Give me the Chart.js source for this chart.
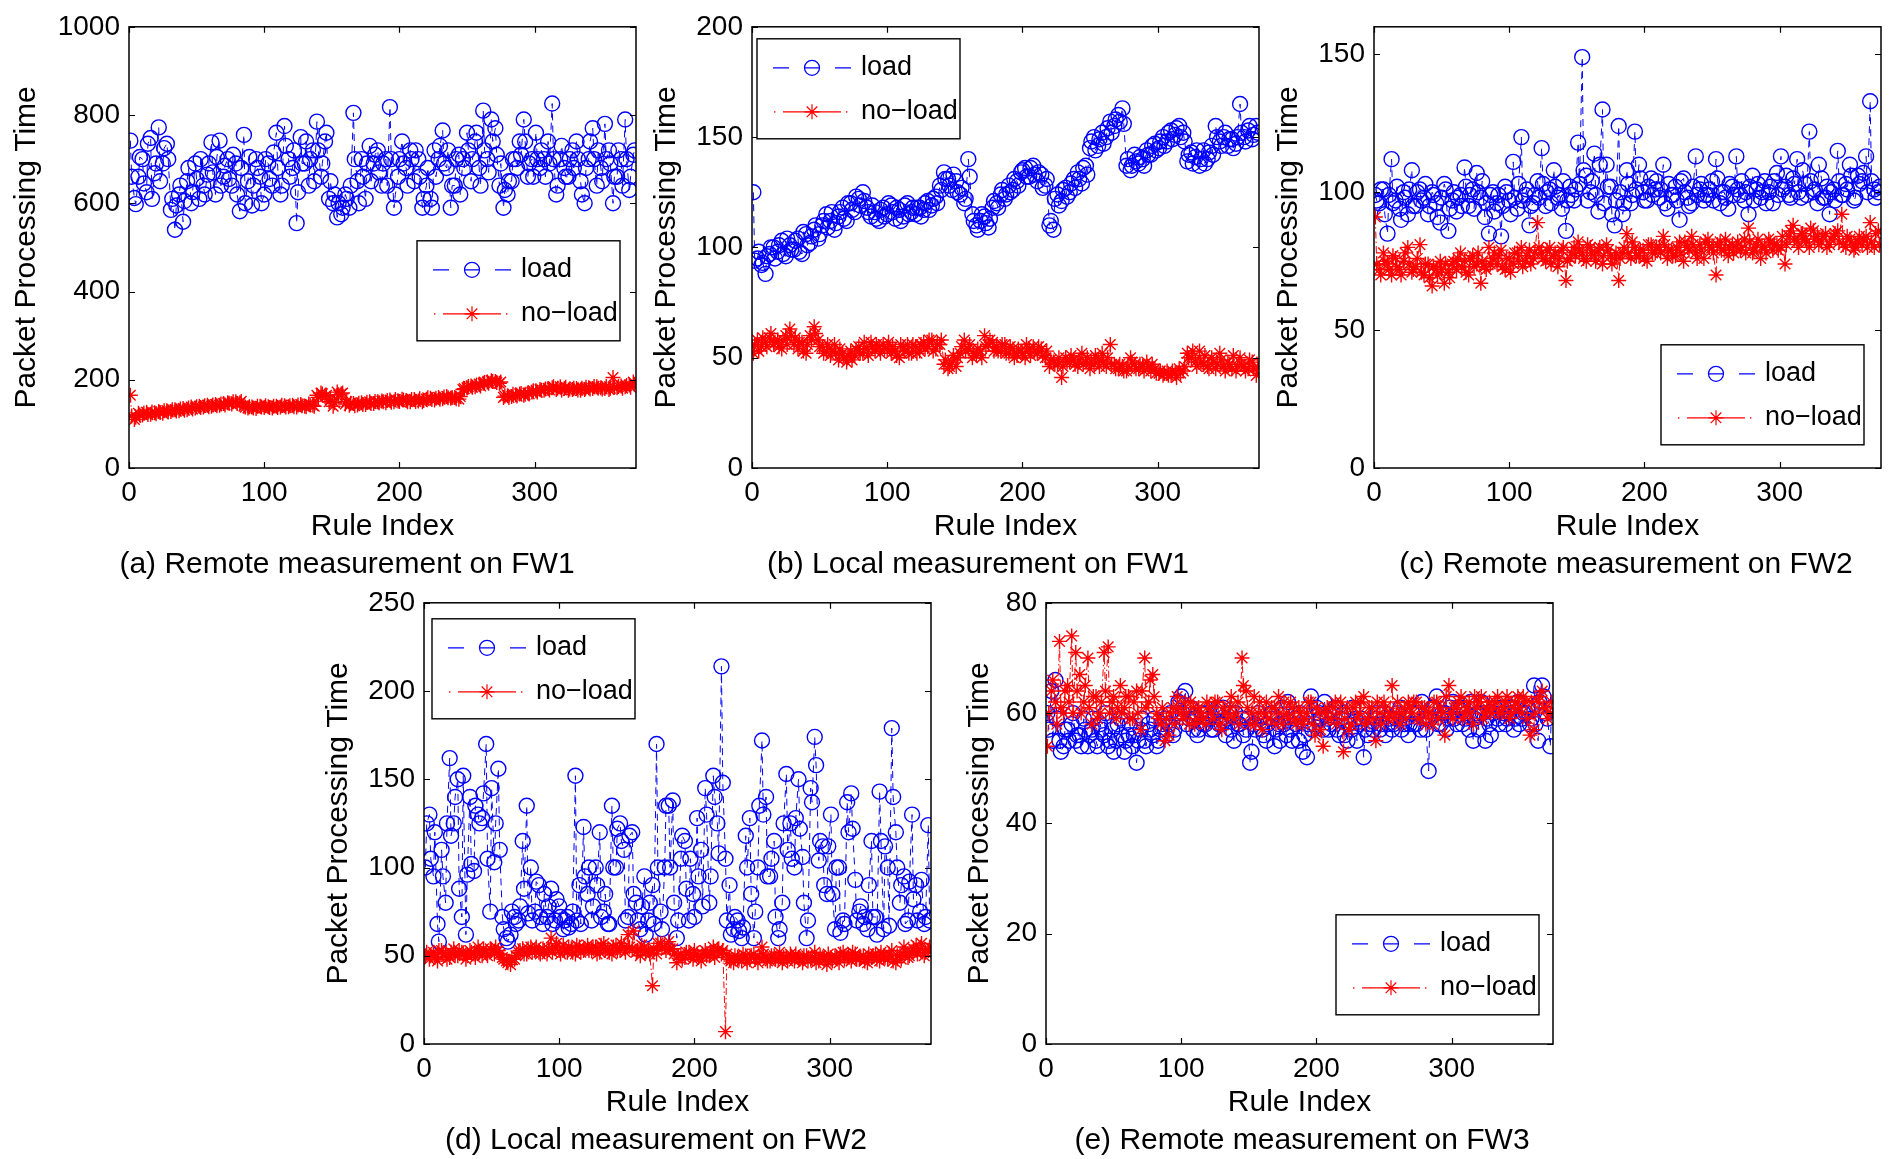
<!DOCTYPE html>
<html>
<head>
<meta charset="utf-8">
<script src="https://cdn.jsdelivr.net/npm/chart.js@4.4.1/dist/chart.umd.min.js"></script>
<style>
  html, body { margin: 0; padding: 0; background: #fff; }
  body { width: 1892px; height: 1159px; position: relative; overflow: hidden; }
  canvas { position: absolute; }
  .caption {
    position: absolute; white-space: nowrap; line-height: 1;
    font: 30px "Liberation Sans", Arial, Helvetica, sans-serif; color: #000;
    transform: translate(-50%, -50%);
  }
</style>
</head>
<body>
<script>
const FONT = '"Liberation Sans", Arial, Helvetica, sans-serif';

// rule indices, two interleaved samplings (1,4,7,... and 2,5,8,...)
const ruleIndexA = [1,4,7,10,13,16,19,22,25,28,31,34,37,40,43,46,49,52,55,58,61,64,67,70,73,76,79,82,85,88,
  91,94,97,100,103,106,109,112,115,118,121,124,127,130,133,136,139,142,145,148,151,154,157,160,163,166,169,172,175,178,
  181,184,187,190,193,196,199,202,205,208,211,214,217,220,223,226,229,232,235,238,241,244,247,250,253,256,259,262,265,268,
  271,274,277,280,283,286,289,292,295,298,301,304,307,310,313,316,319,322,325,328,331,334,337,340,343,346,349,352,355,358,
  361,364,367,370,373];
const ruleIndexB = [2,5,8,11,14,17,20,23,26,29,32,35,38,41,44,47,50,53,56,59,62,65,68,71,74,77,80,83,86,89,
  92,95,98,101,104,107,110,113,116,119,122,125,128,131,134,137,140,143,146,149,152,155,158,161,164,167,170,173,176,179,
  182,185,188,191,194,197,200,203,206,209,212,215,218,221,224,227,230,233,236,239,242,245,248,251,254,257,260,263,266,269,
  272,275,278,281,284,287,290,293,296,299,302,305,308,311,314,317,320,323,326,329,332,335,338,341,344,347,350,353,356,359,
  362,365,368,371,374];

// (a) Remote measurement on FW1
const fw1RemoteLoadA = [742,612,660,700,625,748,668,772,690,735, 585,540,620,558,650,600,690,610,640,665,
  738,620,742,660,700,640,690,582,755,650, 595,700,660,620,690,640,760,620,775,700,
  680,555,750,690,640,720,785,660,740,610, 600,568,575,620,590,805,650,700,610,730,
  690,720,640,700,818,590,660,740,680,720, 650,700,590,640,610,720,700,765,680,590,
  640,710,700,760,650,740,680,810,700,790, 770,640,590,620,650,700,740,790,660,700,
  760,680,700,740,826,620,700,680,660,720, 740,650,600,700,770,640,680,780,720,600,
  660,700,790,630,710];
const fw1RemoteLoadB = [660,598,705,645,735,610,690,650,725,700, 610,595,640,605,680,625,655,700,620,690,
  670,705,640,685,655,710,620,680,600,705, 640,680,600,700,655,715,680,640,730,660,
  720,625,690,740,700,650,720,690,760,650, 620,600,590,610,640,700,600,660,690,650,
  710,670,690,640,700,620,700,690,640,700, 720,660,610,680,590,660,730,690,720,640,
  700,620,680,720,700,760,640,720,670,740, 710,690,630,650,700,680,710,740,690,660,
  700,720,660,690,700,640,730,660,700,680, 700,620,680,740,700,720,650,700,690,660,
  720,640,700,660,720];
const fw1RemoteNoLoadA = [165,110,124,120,126,122,125,128,124,130, 128,132,130,135,132,138,136,140,138,142,
  140,144,142,146,148,145,150,148,140,136, 138,135,140,137,139,136,140,138,141,139,
  142,138,144,140,145,142,165,170,162,150, 140,172,168,145,142,146,143,148,144,150,
  146,150,152,148,154,150,152,156,153,150, 155,152,150,156,158,154,160,157,162,158,
  160,156,178,182,186,184,190,192,195,198, 196,192,160,164,162,166,168,165,170,172,
  175,178,176,180,182,178,184,180,176,178, 180,176,178,182,180,184,182,180,178,205,
  182,186,184,188,195];
const fw1RemoteNoLoadB = [118,115,120,124,121,127,123,126,130,127, 132,129,134,131,136,134,139,137,141,139,
  143,141,145,143,147,150,146,151,138,139, 136,140,138,141,137,140,137,142,138,141,
  139,143,141,139,143,140,160,168,165,155, 148,166,170,150,147,141,147,144,149,146,
  151,148,150,153,149,155,151,154,150,155, 151,157,153,159,155,158,156,161,159,160,
  157,162,180,185,183,188,186,194,192,196, 194,195,163,160,167,163,169,167,168,175,
  172,176,179,177,184,181,177,183,179,181, 177,181,183,179,185,181,179,185,181,183,
  185,181,187,183,190];

// (b) Local measurement on FW1
const fw1LocalLoadA = [125,95,92,88,97,100,98,103,96,101, 99,104,97,106,102,108,104,110,115,112,
  108,114,118,112,120,116,122,125,118,114, 116,112,118,115,119,113,117,114,120,116,
  115,118,117,121,119,123,128,134,131,126, 130,124,120,140,115,110,112,114,109,118,
  120,124,122,128,126,130,134,136,132,137, 130,133,128,110,108,124,121,127,125,131,
  134,129,137,145,150,146,152,150,157,155, 160,163,137,135,142,138,140,144,142,147,
  145,150,148,153,151,155,152,139,143,141, 137,144,140,146,155,148,150,146,149,147,
  165,150,153,149,155];
const fw1LocalLoadB = [94,98,93,96,100,95,101,97,104,99, 103,98,107,101,105,110,106,112,109,116,
  111,116,113,120,117,123,119,121,116,119, 113,117,114,120,116,118,112,119,115,118,
  118,114,120,117,122,120,126,131,128,133, 125,127,122,132,112,108,115,111,113,121,
  118,126,124,125,131,128,135,132,136,133, 134,127,131,112,122,119,126,123,129,127,
  131,136,133,148,144,149,147,154,152,158, 157,156,140,137,139,141,137,142,146,144,
  148,146,152,149,154,150,148,142,138,144, 140,138,143,142,150,146,152,149,145,150,
  152,148,155,151,152];
const fw1LocalNoLoadA = [52,58,55,57,59,56,58,54,60,63, 56,54,57,52,60,64,58,55,53,51,
  56,49,52,48,53,51,55,52,54,57, 53,55,56,54,52,53,50,54,56,52,
  55,53,57,55,58,54,56,47,45,48, 46,52,58,54,50,51,53,60,56,57,
  55,53,56,52,54,51,53,50,54,55, 52,54,50,46,48,47,41,50,48,49,
  46,52,48,45,47,49,52,46,56,47, 45,46,44,50,47,45,46,48,44,45,
  43,42,44,42,43,45,44,52,50,48, 53,47,46,50,45,52,46,48,45,44,
  50,46,45,48,42];
const fw1LocalNoLoadB = [56,53,59,55,61,57,55,58,56,60, 59,57,53,56,58,61,55,52,56,53,
  52,54,50,51,49,54,52,57,51,55, 56,52,54,57,55,51,56,53,52,56,
  52,56,54,58,53,56,58,49,46,51, 50,55,53,56,52,54,50,55,58,53,
  53,56,52,55,50,54,52,56,51,53, 55,51,53,49,47,50,46,48,51,47,
  49,47,50,48,51,46,48,50,47,45, 47,44,46,48,45,47,44,46,47,43,
  44,43,42,44,41,43,46,50,53,46, 48,51,45,48,47,49,44,47,51,46,
  47,44,49,45,46];

// (c) Remote measurement on FW2
const fw2RemoteLoadA = [99,96,101,85,112,97,94,100,92,108, 95,101,98,92,100,96,89,103,86,97,
  93,99,109,95,101,107,98,91,85,100, 96,84,102,97,111,94,120,99,88,96,
  104,116,95,101,108,98,94,86,102,97, 118,149,106,100,114,93,130,110,102,88,
  124,92,108,96,122,110,100,97,105,101, 98,110,94,99,102,90,105,98,96,113,
  101,97,99,104,112,96,100,94,102,113, 99,97,92,106,101,98,104,100,96,107,
  113,102,99,105,112,98,103,122,100,96, 105,98,92,101,115,99,103,110,97,106,
  104,113,133,101,100];
const fw2RemoteLoadB = [97,101,92,99,96,102,90,98,101,95, 100,97,103,95,99,91,98,101,94,100,
  98,95,102,99,94,100,104,96,99,93, 99,95,100,92,98,103,97,101,95,99,
  98,103,100,96,102,99,104,97,99,101, 103,108,97,104,99,110,96,102,92,97,
  100,96,103,99,101,105,97,102,99,104, 101,96,103,99,97,104,100,95,102,99,
  103,99,101,97,105,100,98,103,99,101, 104,100,102,97,103,100,96,102,104,99,
  101,106,98,103,100,108,99,104,101,110, 98,102,100,97,104,99,101,106,98,103,
  107,100,104,98,102];
const fw2RemoteNoLoadA = [91,72,78,74,70,76,72,75,80,71, 73,81,70,74,66,72,75,67,71,74,
  72,78,75,70,77,74,67,73,80,76, 74,79,72,76,74,78,80,75,79,76,
  89,78,75,80,77,73,79,68,76,80, 82,78,75,80,77,79,74,81,77,76,
  68,78,85,76,80,77,79,75,81,78, 80,84,76,79,77,82,75,80,84,78,
  81,76,83,80,70,82,79,77,81,80, 79,83,87,78,81,76,80,83,79,81,
  80,74,84,88,82,85,83,80,86,84, 82,85,81,84,86,92,80,83,79,82,
  81,84,89,80,86];
const fw2RemoteNoLoadB = [74,70,75,72,77,73,70,78,74,72, 76,71,74,69,73,70,72,74,69,75,
  76,73,71,76,73,78,75,72,74,78, 77,73,76,71,78,75,73,77,74,78,
  80,76,79,74,78,76,80,75,78,77, 79,76,81,78,75,80,77,79,74,78,
  76,80,78,82,77,79,76,81,78,80, 78,81,79,77,80,78,82,79,81,76,
  79,82,80,78,81,79,83,80,78,82, 80,78,82,79,83,80,78,82,81,79,
  84,81,86,83,80,85,82,87,83,81, 84,80,83,85,82,81,84,82,80,84,
  83,80,82,85,81];

// (d) Local measurement on FW2
const fw2LocalLoadA = [100,130,95,68,110,80,162,125,150,72, 62,140,98,130,128,170,75,103,156,72,
  60,62,72,70,115,135,100,75,90,68, 72,88,70,78,65,72,68,152,90,123,
  85,70,100,120,75,68,135,100,125,110, 72,120,80,65,95,70,90,170,75,100,
  135,138,60,105,115,70,85,128,110,145, 80,152,125,214,105,90,65,70,60,118,
  128,60,100,172,140,95,115,60,80,153, 125,100,150,106,60,145,174,104,112,85,
  130,65,100,70,137,142,93,75,68,65, 115,72,143,65,100,179,120,80,95,70,
  130,90,75,68,124];
const fw2LocalLoadB = [125,105,120,58,95,125,118,140,88,152, 96,102,135,125,142,105,145,125,110,65,
  58,75,68,78,88,74,70,92,72,85, 78,68,82,72,70,66,75,70,68,95,
  100,78,90,72,85,68,100,122,115,70, 118,85,70,78,62,80,68,100,65,135,
  100,80,70,118,88,105,72,95,78,130, 95,140,108,148,70,62,72,64,66,100,
  85,75,135,130,95,105,72,65,125,110, 105,128,122,80,70,137,158,115,90,112,
  85,100,63,68,120,122,70,78,72,90, 72,62,115,112,67,140,100,90,68,92,
  82,70,93,72,70];
const fw2LocalNoLoadA = [50,48,52,47,53,51,49,54,50,52, 48,53,51,55,50,52,54,51,53,49,
  47,45,48,52,54,51,55,53,52,54, 51,60,55,53,56,52,54,51,55,53,
  56,53,55,52,57,54,51,56,53,55, 62,54,52,50,55,53,33,51,57,55,
  58,54,46,51,49,52,48,51,47,53, 50,55,53,51,7,48,46,49,47,50,
  48,51,46,55,49,47,50,48,46,49, 51,47,49,46,50,48,52,47,49,45,
  48,50,46,52,49,47,51,48,50,46, 49,51,47,50,48,53,46,50,55,49,
  52,56,54,50,53];
const fw2LocalNoLoadB = [52,50,49,53,51,48,52,50,53,51, 50,52,49,52,54,50,53,55,51,48,
  46,48,50,53,51,54,52,55,51,53, 54,52,57,51,53,55,52,56,52,54,
  53,55,51,56,53,52,55,53,57,52, 55,64,53,56,52,51,54,57,55,53,
  54,51,50,48,52,50,53,49,51,50, 52,49,54,53,51,47,50,48,51,46,
  50,48,49,51,47,50,48,52,49,47, 49,51,48,50,47,49,46,50,48,51,
  47,49,51,48,50,52,48,49,47,51, 50,48,52,49,51,47,50,48,52,50,
  54,51,57,52,55];

// (e) Remote measurement on FW3
const fw3RemoteLoadA = [60,64,66,55,54,57,58,55,56,59, 54,57,55,58,56,54,57,55,59,53,
  56,54,51,57,55,58,56,54,57,59, 58,56,60,63,64,59,57,56,60,58,
  59,57,61,58,56,60,55,58,59,57, 51,58,60,57,55,59,54,58,61,56,
  57,59,55,53,52,63,58,60,57,59, 58,61,56,60,55,57,59,58,52,56,
  58,59,57,60,58,57,59,61,58,56, 60,58,57,59,49.5,61,63,58,60,59,
  62,58,61,59,57,55,60,62,55,58, 60,59,61,58,60,57,62,59,60,58,
  65,55,65,60,54];
const fw3RemoteLoadB = [57,55,59,53,57,55,60,56,54,57, 56,59,54,57,60,55,53,58,56,55,
  58,56,55,59,54,57,59,55,58,56, 60,57,62,60,58,61,59,57,58,60,
  57,60,58,61,59,57,60,58,56,59, 53,57,59,56,58,60,57,55,58,62,
  55,58,60,56,58,57,61,59,62,57, 60,57,59,56,58,61,55,59,57,58,
  57,60,58,56,59,58,60,57,59,58, 58,60,62,57,59,61,58,60,57,61,
  59,61,58,60,62,59,57,60,59,56, 61,58,60,59,61,59,58,60,61,59,
  58,62,63,59,61];
const fw3RemoteNoLoadA = [54,64,62,73,60,65,74,71,67,62, 70,58,63,60,71,72,62,59,65,61,
  63,59,64,57,70,62,67,60,58,55, 56,61,63,60,62,58,61,59,60,58,
  61,59,62,57,60,61,59,62,70,64, 58,63,60,57,62,59,61,63,58,60,
  62,59,61,58,60,62,56,60,54,61, 59,62,60,53,61,58,62,60,63,59,
  61,55,60,62,59,65,60,58,61,62, 60,62,59,61,60,58,62,61,56,65,
  59,61,63,60,62,58,61,63,60,62, 61,63,60,62,59,61,63,60,62,56,
  57,62,64,61,60];
const fw3RemoteNoLoadB = [60,66,58,61,64,62,60,64,60,65, 61,63,59,62,64,60,63,61,60,63,
  59,62,60,64,61,66,63,59,61,59, 60,58,61,59,60,62,58,61,59,62,
  60,62,58,61,59,63,60,58,65,61, 60,58,62,60,59,61,58,60,62,59,
  61,58,60,59,62,58,61,57,60,59, 61,58,62,59,57,61,59,62,58,61,
  59,62,58,61,60,59,62,60,59,61, 62,59,61,58,60,62,59,60,63,60,
  61,62,59,61,60,63,62,59,61,60, 62,60,61,63,60,62,61,63,59,62,
  60,63,61,59,62];

const seriesNames = ['load', 'no\u2212load'];
const xMax = 375;

const panels = [
  { caption: '(a) Remote measurement on FW1', load: [fw1RemoteLoadA, fw1RemoteLoadB], noLoad: [fw1RemoteNoLoadA, fw1RemoteNoLoadB],
    yMax: 1000, yStep: 200, plot: [129, 21], yW: 120, legend: [288, 214], cap: [347, 563] },
  { caption: '(b) Local measurement on FW1', load: [fw1LocalLoadA, fw1LocalLoadB], noLoad: [fw1LocalNoLoadA, fw1LocalNoLoadB],
    yMax: 200, yStep: 50, plot: [752, 21], yW: 103, legend: [5, 12], cap: [978, 563] },
  { caption: '(c) Remote measurement on FW2', load: [fw2RemoteLoadA, fw2RemoteLoadB], noLoad: [fw2RemoteNoLoadA, fw2RemoteNoLoadB],
    yMax: 160, yStep: 50, plot: [1374, 21], yW: 103, legend: [287, 318], cap: [1626, 563] },
  { caption: '(d) Local measurement on FW2', load: [fw2LocalLoadA, fw2LocalLoadB], noLoad: [fw2LocalNoLoadA, fw2LocalNoLoadB],
    yMax: 250, yStep: 50, plot: [424, 597], yW: 103, legend: [8, 16], cap: [656, 1139] },
  { caption: '(e) Remote measurement on FW3', load: [fw3RemoteLoadA, fw3RemoteLoadB], noLoad: [fw3RemoteNoLoadA, fw3RemoteNoLoadB],
    yMax: 80, yStep: 20, plot: [1046, 597], yW: 84, legend: [290, 312], cap: [1302, 1139] },
];

const PW = 507, PH = 447, PAD_T = 20, PAD_R = 12, XH = 77, PAD_B = 2;
const BLUE = '#0000ff', RED = '#ff0000';
const MARK_R = 7.5;

// interleave the two samplings into one ordered series
function toPoints([a, b]) {
  const pts = [];
  ruleIndexA.forEach((x, k) => {
    pts.push({ x, y: a[k] });
    pts.push({ x: ruleIndexB[k], y: b[k] });
  });
  return pts;
}

function drawStar(ctx, cx, cy, r) {
  ctx.beginPath();
  for (let i = 0; i < 4; i++) {
    const t = i * Math.PI / 4;
    ctx.moveTo(cx - r * Math.cos(t), cy - r * Math.sin(t));
    ctx.lineTo(cx + r * Math.cos(t), cy + r * Math.sin(t));
  }
  ctx.stroke();
}

// matlab-like box, inward ticks and the legend box
const matlabFrame = {
  id: 'matlabFrame',
  afterDraw(chart, args, opts) {
    const { ctx, chartArea: a, scales: { x, y } } = chart;
    ctx.save();
    ctx.setLineDash([]);
    ctx.strokeStyle = '#000';
    ctx.lineWidth = 1.5;
    ctx.strokeRect(a.left, a.top, a.width, a.height);
    const tl = 6;
    ctx.beginPath();
    x.ticks.forEach(t => {
      const px = Math.round(x.getPixelForValue(t.value)) + 0.5;
      ctx.moveTo(px, a.bottom); ctx.lineTo(px, a.bottom - tl);
      ctx.moveTo(px, a.top); ctx.lineTo(px, a.top + tl);
    });
    y.ticks.forEach(t => {
      const py = Math.round(y.getPixelForValue(t.value)) + 0.5;
      ctx.moveTo(a.left, py); ctx.lineTo(a.left + tl, py);
      ctx.moveTo(a.right, py); ctx.lineTo(a.right - tl, py);
    });
    ctx.lineWidth = 1.2;
    ctx.stroke();

    // legend
    const L = a.left + opts.dx, T = a.top + opts.dy, W = 203, H = 100;
    ctx.fillStyle = '#fff';
    ctx.fillRect(L, T, W, H);
    ctx.lineWidth = 1.4;
    ctx.strokeStyle = '#000';
    ctx.strokeRect(L, T, W, H);
    const r1 = T + 29, r2 = T + 73, mx = L + 55;
    ctx.lineWidth = 1.2;
    ctx.strokeStyle = BLUE;
    ctx.beginPath();
    ctx.moveTo(L + 16, r1); ctx.lineTo(L + 32, r1);
    ctx.moveTo(L + 78, r1); ctx.lineTo(L + 94, r1);
    ctx.moveTo(mx - MARK_R, r1); ctx.lineTo(mx + MARK_R, r1);
    ctx.stroke();
    ctx.beginPath();
    ctx.arc(mx, r1, MARK_R, 0, Math.PI * 2);
    ctx.stroke();
    ctx.strokeStyle = RED;
    ctx.fillStyle = RED;
    ctx.fillRect(L + 17, r2 - 0.6, 1.4, 1.4);
    ctx.fillRect(L + 89, r2 - 0.6, 1.4, 1.4);
    ctx.beginPath();
    ctx.moveTo(L + 26, r2); ctx.lineTo(L + 84, r2);
    ctx.stroke();
    drawStar(ctx, mx, r2, MARK_R);
    ctx.fillStyle = '#000';
    ctx.font = '27px ' + FONT;
    ctx.textBaseline = 'middle';
    ctx.textAlign = 'left';
    ctx.fillText(seriesNames[0], L + 104, r1);
    ctx.fillText(seriesNames[1], L + 104, r2);
    ctx.restore();
  }
};

panels.forEach(p => {
  const canvas = document.createElement('canvas');
  const w = p.yW + PW + PAD_R, h = PAD_T + PH + XH + PAD_B;
  canvas.width = w; canvas.height = h;
  canvas.style.left = (p.plot[0] - p.yW) + 'px';
  canvas.style.top = (p.plot[1] - PAD_T) + 'px';
  canvas.style.width = w + 'px'; canvas.style.height = h + 'px';
  document.body.appendChild(canvas);

  const cap = document.createElement('div');
  cap.className = 'caption';
  cap.textContent = p.caption;
  cap.style.left = p.cap[0] + 'px';
  cap.style.top = p.cap[1] + 'px';
  document.body.appendChild(cap);

  new Chart(canvas, {
    type: 'scatter',
    data: {
      datasets: [
        {
          label: seriesNames[1],
          data: toPoints(p.noLoad),
          showLine: true,
          borderColor: RED, borderWidth: 1, borderDash: [7, 3, 1.5, 3],
          pointStyle: 'star', pointRadius: MARK_R, pointBorderWidth: 1.4,
          pointBorderColor: RED, pointBackgroundColor: RED,
          order: 0,
        },
        {
          label: seriesNames[0],
          data: toPoints(p.load),
          showLine: true,
          borderColor: BLUE, borderWidth: 1, borderDash: [7, 5],
          pointStyle: 'circle', pointRadius: MARK_R, pointBorderWidth: 1.4,
          pointBorderColor: BLUE, pointBackgroundColor: 'rgba(0,0,0,0)',
          order: 1,
        },
      ],
    },
    options: {
      responsive: false,
      animation: false,
      devicePixelRatio: 1,
      layout: { padding: { left: 0, top: PAD_T, right: PAD_R, bottom: PAD_B } },
      plugins: {
        legend: { display: false },
        tooltip: { enabled: false },
        matlabFrame: { dx: p.legend[0], dy: p.legend[1] },
      },
      scales: {
        x: {
          type: 'linear', min: 0, max: xMax,
          grid: { display: false, drawTicks: false }, border: { display: false },
          ticks: { stepSize: 100, includeBounds: false, padding: 8, maxRotation: 0, autoSkip: false,
                   color: '#000', font: { family: FONT, size: 28 }, callback: v => String(v) },
          title: { display: true, text: 'Rule Index', color: '#000', padding: 0,
                   font: { family: FONT, size: 30 } },
          afterFit: s => { s.height = XH; },
        },
        y: {
          type: 'linear', min: 0, max: p.yMax,
          grid: { display: false, drawTicks: false }, border: { display: false },
          ticks: { stepSize: p.yStep, includeBounds: false, padding: 9, autoSkip: false,
                   color: '#000', font: { family: FONT, size: 28 }, callback: v => String(v) },
          title: { display: true, text: 'Packet Processing Time', color: '#000', padding: 0,
                   font: { family: FONT, size: 30 } },
          afterFit: s => { s.width = p.yW; },
        },
      },
    },
    plugins: [matlabFrame],
  });
});
</script>
</body>
</html>
